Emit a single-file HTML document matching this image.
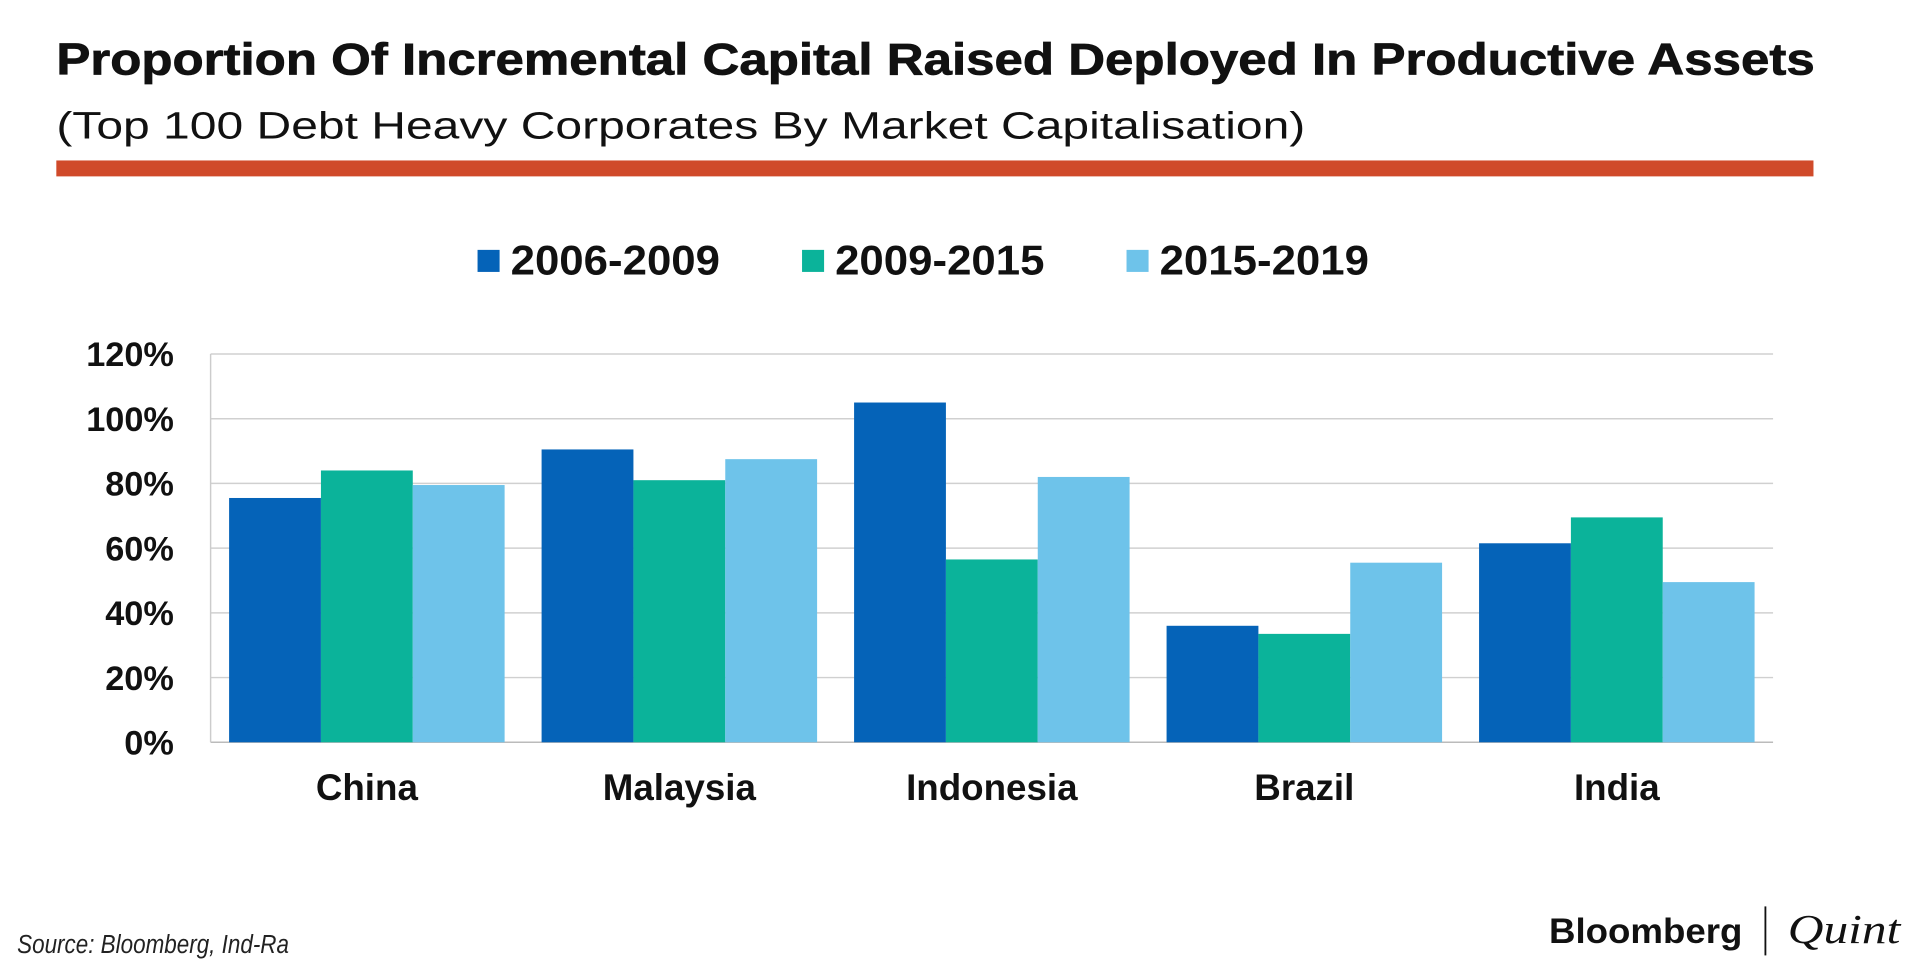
<!DOCTYPE html>
<html><head><meta charset="utf-8"><style>
html,body{margin:0;padding:0;background:#fff;width:1920px;height:975px;overflow:hidden}
svg{display:block;font-family:"Liberation Sans",sans-serif}
</style></head><body>
<svg id="chart" width="1920" height="975" viewBox="0 0 1568 796" preserveAspectRatio="none" xmlns="http://www.w3.org/2000/svg">
<text x="46" y="61" font-size="36" font-weight="bold" fill="#111" stroke="#111" stroke-width="0.6" textLength="1436" lengthAdjust="spacingAndGlyphs">Proportion Of Incremental Capital Raised Deployed In Productive Assets</text>
<text x="46" y="113" font-size="31" fill="#111" textLength="1020" lengthAdjust="spacingAndGlyphs">(Top 100 Debt Heavy Corporates By Market Capitalisation)</text>
<rect x="46" y="131" width="1435" height="13" fill="#d04a2a"/>
<g id="legend"></g>
<g id="grid"></g>
<g id="bars"></g>
<g id="labels"></g>
<text x="14" y="778" font-size="21" font-style="italic" fill="#222" textLength="222" lengthAdjust="spacingAndGlyphs">Source: Bloomberg, Ind-Ra</text>
<text x="1265" y="770" font-size="29" font-weight="bold" fill="#111" textLength="158" lengthAdjust="spacingAndGlyphs">Bloomberg</text>
<rect x="1441" y="740" width="1.5" height="40" fill="#111"/>
<text x="1460" y="770" font-size="34" font-style="italic" font-family="Liberation Serif, serif" fill="#111" textLength="92" lengthAdjust="spacingAndGlyphs">Quint</text>
</svg>
<script>
const categories = ["China","Malaysia","Indonesia","Brazil","India"];
const seriesNames = ["2006-2009","2009-2015","2015-2019"];
const s1 = [75.5, 90.5, 105, 36, 61.5];
const s2 = [84, 81, 56.5, 33.5, 69.5];
const s3 = [79.5, 87.5, 82, 55.5, 49.5];
const yTicks = [0,20,40,60,80,100,120];
const colors = ["#0563b8","#0bb39a","#6ec3ea"];
const NS="http://www.w3.org/2000/svg";
const L=172,R=1448,T=289,B=606,yMax=120;
const y=v=>B-(v/yMax)*(B-T);
const gw=(R-L)/categories.length;
const bw=75;
const x=(ci,si)=>L+ci*gw+(gw-3*bw)/2+si*bw;
function mk(tag,attrs,parent){const e=document.createElementNS(NS,tag);for(const k in attrs)e.setAttribute(k,attrs[k]);parent.appendChild(e);return e;}
const grid=document.getElementById('grid'),bars=document.getElementById('bars'),labels=document.getElementById('labels'),legend=document.getElementById('legend');
yTicks.forEach(t=>{
  const ln=mk('line',{x1:L,x2:R,y1:y(t),y2:y(t),stroke:t===0?'#bbb':'#d0d0d0','stroke-width':1.2},grid);
  
  
  const tx=mk('text',{x:142,y:y(t)+10,'text-anchor':'end','font-size':28,'font-weight':'bold',fill:'#111'},labels);
  tx.textContent=t+'%';
  
  
});
const ax=mk('line',{x1:L,x2:L,y1:T,y2:B,stroke:'#ccc','stroke-width':1.2},grid);


[s1,s2,s3].forEach((s,si)=>{
  s.forEach((v,ci)=>{
    const r=mk('rect',{x:x(ci,si),y:y(v),width:bw,height:B-y(v),fill:colors[si]},bars);
    
    
  });
});
categories.forEach((c,ci)=>{
  const tx=mk('text',{x:L+ci*gw+gw/2,y:653,'text-anchor':'middle','font-size':30,'font-weight':'bold',fill:'#111'},labels);
  tx.textContent=c;
  
  
});
seriesNames.forEach((n,si)=>{
  const lx=390+si*265;
  const sq=mk('rect',{x:lx,y:204,width:18,height:18,fill:colors[si]},legend);
  
  
  const tx=mk('text',{x:lx+27,y:224,'font-size':34,'font-weight':'bold',fill:'#111',textLength:171,lengthAdjust:'spacingAndGlyphs'},legend);
  tx.textContent=n;
  
  
});
</script>
</body></html>
